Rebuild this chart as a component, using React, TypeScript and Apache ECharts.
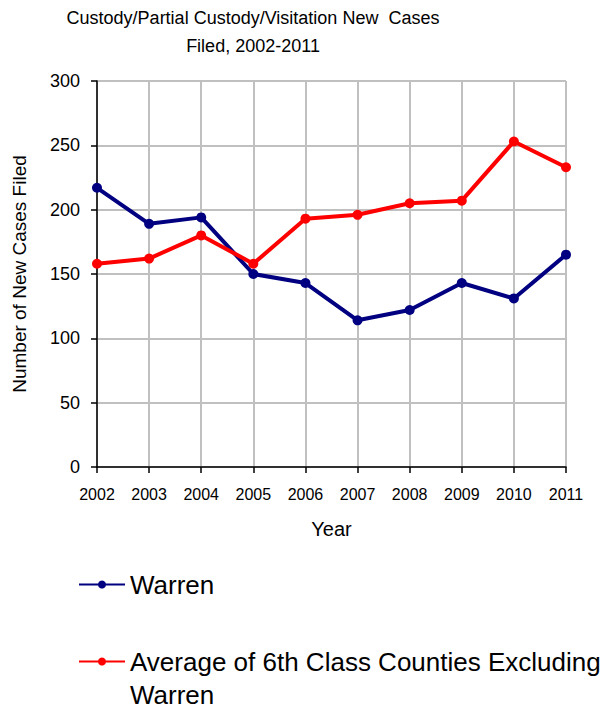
import React, { useEffect, useRef } from "react";
import * as echarts from "echarts";

const years = ["2002", "2003", "2004", "2005", "2006", "2007", "2008", "2009", "2010", "2011"];
const warren = [217, 189, 194, 150, 143, 114, 122, 143, 131, 165];
const average6th = [158, 162, 180, 158, 193, 196, 205, 207, 253, 233];
const yTicks = [0, 50, 100, 150, 200, 250, 300];

const FONT = "Liberation Sans, Arial, sans-serif";

export default function App() {
  const ref = useRef<HTMLDivElement>(null);
  useEffect(() => {
    document.body.style.margin = "0";
    if (!ref.current) return;
    const chart = echarts.init(ref.current, undefined, { renderer: "svg" });
    chart.setOption({
      animation: false,
      backgroundColor: "#ffffff",
      textStyle: { fontFamily: FONT },
      title: {
        text: "Custody/Partial Custody/Visitation New  Cases\nFiled, 2002-2011",
        left: 253,
        top: 4,
        textAlign: "center",
        padding: 0,
        textStyle: {
          fontFamily: FONT,
          fontSize: 18,
          fontWeight: "normal",
          color: "#000",
          lineHeight: 28,
          align: "center",
        },
      },
      grid: { left: 97, right: 38, top: 81, height: 386, containLabel: false },
      legend: [
        {
          data: ["Warren"],
          left: 78,
          top: 568,
          padding: 0,
          orient: "vertical",
          itemWidth: 46,
          itemHeight: 10,
          textStyle: { fontFamily: FONT, fontSize: 26, color: "#000", lineHeight: 33 },
        },
        {
          data: ["Average of 6th Class Counties Excluding Warren"],
          left: 78,
          top: 612,
          padding: 0,
          orient: "vertical",
          itemWidth: 46,
          itemHeight: 10,
          formatter: () => " \nAverage of 6th Class Counties Excluding\nWarren",
          textStyle: {
            fontFamily: FONT,
            fontSize: 26,
            color: "#000",
            lineHeight: 33,
          },
        },
      ],
      xAxis: {
        type: "category",
        data: years,
        boundaryGap: false,
        name: "Year",
        nameLocation: "middle",
        nameGap: 52,
        nameTextStyle: { fontFamily: FONT, fontSize: 20, color: "#000" },
        axisLine: { lineStyle: { color: "#000", width: 1.5 } },
        axisTick: { show: true, length: 6, inside: false, lineStyle: { color: "#000", width: 1.5 } },
        axisLabel: { fontFamily: FONT, fontSize: 16, color: "#000", margin: 19, interval: 0 },
        splitLine: { show: true, lineStyle: { color: "#c0c0c0", width: 2 } },
      },
      yAxis: {
        type: "value",
        min: yTicks[0],
        max: yTicks[yTicks.length - 1],
        interval: 50,
        name: "Number of New Cases Filed",
        nameLocation: "middle",
        nameGap: 68,
        nameRotate: 90,
        nameTextStyle: { fontFamily: FONT, fontSize: 19, color: "#000" },
        axisLine: { show: true, lineStyle: { color: "#000", width: 1.5 } },
        axisTick: { show: true, length: 6, inside: false, lineStyle: { color: "#000", width: 1.5 } },
        axisLabel: { fontFamily: FONT, fontSize: 18, color: "#000", margin: 17 },
        splitLine: { show: true, lineStyle: { color: "#c0c0c0", width: 2 } },
      },
      series: [
        {
          name: "Warren",
          type: "line",
          data: warren,
          symbol: "circle",
          symbolSize: 10,
          lineStyle: { color: "#000080", width: 4 },
          itemStyle: { color: "#000080" },
          z: 3,
        },
        {
          name: "Average of 6th Class Counties Excluding Warren",
          type: "line",
          data: average6th,
          symbol: "circle",
          symbolSize: 10,
          lineStyle: { color: "#ff0000", width: 4 },
          itemStyle: { color: "#ff0000" },
          z: 4,
        },
      ],
    });
    return () => chart.dispose();
  }, []);
  return <div ref={ref} style={{ width: 604, height: 708 }} />;
}
